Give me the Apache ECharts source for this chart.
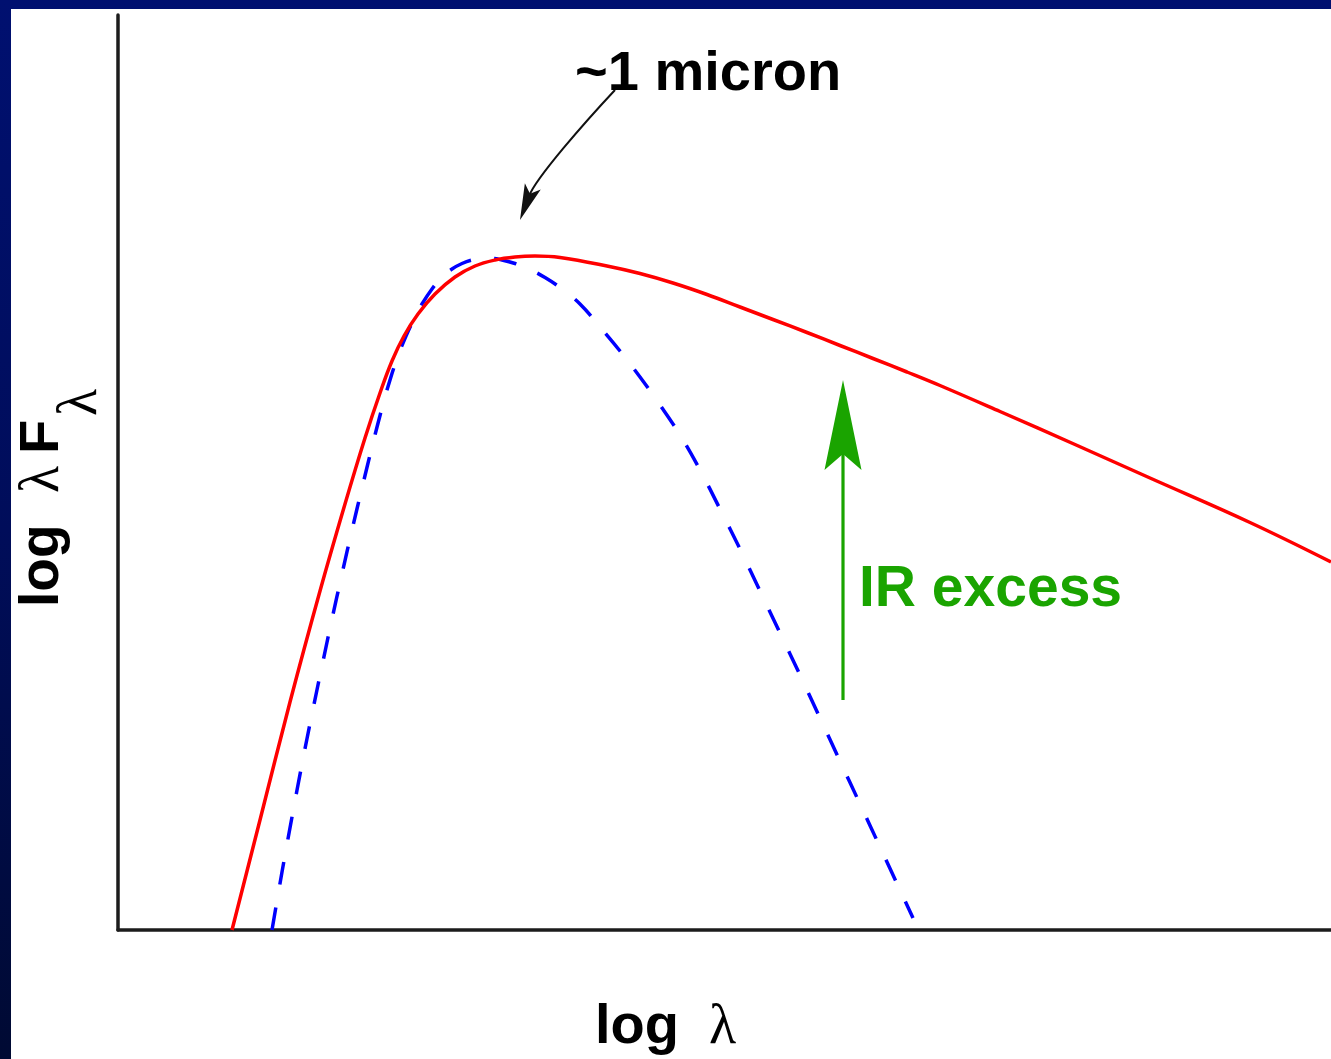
<!DOCTYPE html>
<html>
<head>
<meta charset="utf-8">
<title>SED with IR excess</title>
<script src="https://cdn.jsdelivr.net/npm/echarts@6/dist/echarts.min.js"></script>
<style>
  html, body { margin: 0; padding: 0; width: 1331px; height: 1059px; overflow: hidden; }
  body { background: linear-gradient(to bottom, #001070 0%, #000d5a 50%, #000a33 100%); }
  #chart { position: absolute; left: 11px; top: 9px; width: 1320px; height: 1050px; background: #ffffff; }
</style>
</head>
<body>
<div id="chart"></div>
<script>
// Schematic spectral energy distribution: log λF_λ against log λ (arbitrary log units).

// Observed SED (solid red): star plus infrared excess
const sedLogLambda = [1.14, 1.42, 1.72, 2.02, 2.27, 2.47, 2.62, 2.74, 2.86, 3.00, 3.17, 3.37, 3.57, 3.77, 3.97, 4.17, 4.42, 4.89, 5.22, 5.55, 5.89, 6.22, 6.55, 6.89, 7.22, 7.55, 7.89, 8.22, 8.82, 9.57, 10.32, 11.32, 12.13];
const sedLogFlux   = [0.00, 1.10, 2.28, 3.39, 4.26, 4.92, 5.37, 5.69, 5.94, 6.16, 6.36, 6.53, 6.64, 6.70, 6.73, 6.74, 6.725, 6.64, 6.565, 6.47, 6.355, 6.23, 6.105, 5.975, 5.845, 5.715, 5.58, 5.445, 5.185, 4.855, 4.52, 4.075, 3.68];

// Stellar photosphere alone (dashed blue)
const photLogLambda = [1.54, 1.64, 1.74, 1.84, 1.94, 2.04, 2.14, 2.24, 2.34, 2.44, 2.54, 2.64, 2.72, 2.80, 2.88, 2.96, 3.04, 3.14, 3.24, 3.34, 3.44, 3.54, 3.64, 3.74, 3.84, 3.97, 4.12, 4.27, 4.42, 4.62, 4.82, 5.02, 5.22, 5.42, 5.62, 5.82, 6.02, 6.22, 6.42, 6.62, 6.82, 7.02, 7.22, 7.42, 7.62, 7.82, 7.95];
const photLogFlux   = [0.00, 0.58, 1.13, 1.66, 2.16, 2.64, 3.11, 3.56, 4.00, 4.42, 4.83, 5.22, 5.50, 5.74, 5.94, 6.11, 6.26, 6.41, 6.53, 6.61, 6.665, 6.70, 6.715, 6.715, 6.70, 6.665, 6.605, 6.525, 6.425, 6.26, 6.03, 5.79, 5.53, 5.25, 4.95, 4.60, 4.21, 3.81, 3.39, 2.97, 2.55, 2.12, 1.69, 1.26, 0.83, 0.40, 0.12];

// Annotations (data units)
const irArrowX = 7.25;            // IR excess arrow: x position
const irArrowSpan = [2.30, 5.50]; // from tail to tip
const irLabelPos = [7.41, 3.23];
const micronLabelPos = [4.57, 8.38];
// curved pointer: start, control 1, control 2, tip
const micronArrow = [[4.97, 8.40], [4.67, 8.08], [4.18, 7.52], [4.02, 7.10]];

const X_MAX = 12.13, Y_MAX = 9.15;

const zip = (xs, ys) => xs.map((x, i) => [x, ys[i]]);

const SANS = '"Liberation Sans", Arial, Helvetica, sans-serif';
const SERIF = '"Liberation Serif", "Times New Roman", serif';
const GREEN = '#1aa400';
const MID = 17; // baseline offset for middle-aligned 56px text

function arrowHead(tip, from, len, halfW, notch, color) {
  const dx = tip[0] - from[0], dy = tip[1] - from[1];
  const n = Math.hypot(dx, dy);
  const ux = dx / n, uy = dy / n, px = -uy, py = ux;
  return {
    type: 'polygon',
    shape: { points: [
      [tip[0], tip[1]],
      [tip[0] - len * ux + halfW * px, tip[1] - len * uy + halfW * py],
      [tip[0] - notch * ux, tip[1] - notch * uy],
      [tip[0] - len * ux - halfW * px, tip[1] - len * uy - halfW * py]
    ] },
    style: { fill: color }
  };
}

function renderAnnotations(params, api) {
  const children = [];
  // IR excess arrow
  const tail = api.coord([irArrowX, irArrowSpan[0]]);
  const tip = api.coord([irArrowX, irArrowSpan[1]]);
  children.push({
    type: 'line',
    shape: { x1: tail[0], y1: tail[1], x2: tip[0], y2: tip[1] + 70 },
    style: { stroke: GREEN, lineWidth: 3.2 }
  });
  children.push(arrowHead(tip, tail, 90, 18.5, 74, GREEN));
  const irp = api.coord(irLabelPos);
  children.push({
    type: 'text',
    style: { text: 'IR excess', x: irp[0], y: irp[1] - MID, font: 'bold 57px ' + SANS, fill: GREEN, align: 'left', verticalAlign: 'middle' }
  });

  // ~1 micron pointer
  const p = micronArrow.map(d => api.coord(d));
  const m = p[3], c2 = p[2];
  const dx = m[0] - c2[0], dy = m[1] - c2[1], n = Math.hypot(dx, dy);
  const end = [m[0] - 26 * dx / n, m[1] - 26 * dy / n];
  children.push({
    type: 'bezierCurve',
    shape: { x1: p[0][0], y1: p[0][1], cpx1: p[1][0], cpy1: p[1][1], cpx2: p[2][0], cpy2: p[2][1], x2: end[0], y2: end[1] },
    style: { stroke: '#111', lineWidth: 2, fill: null }
  });
  children.push(arrowHead(m, c2, 36, 8.5, 28, '#111'));
  const mp = api.coord(micronLabelPos);
  children.push({
    type: 'text',
    style: { text: '~1 micron', x: mp[0], y: mp[1] - MID, font: 'bold 56px ' + SANS, fill: '#000', align: 'left', verticalAlign: 'middle' }
  });
  return { type: 'group', children };
}

const chart = echarts.init(document.getElementById('chart'), null, { renderer: 'canvas' });

const bareAxis = (max) => ({
  type: 'value',
  min: 0,
  max: max,
  axisLine: { show: true, lineStyle: { color: '#1c1c1c', width: 3.5 } },
  axisTick: { show: false },
  axisLabel: { show: false },
  splitLine: { show: false }
});

chart.setOption({
  animation: false,
  backgroundColor: '#ffffff',
  grid: { left: 107, top: 6, right: 0, bottom: 129, containLabel: false },
  xAxis: bareAxis(X_MAX),
  yAxis: bareAxis(Y_MAX),
  graphic: [
    {
      type: 'group',
      x: 49,
      y: 594,
      rotation: Math.PI / 2,
      children: [
        { type: 'text', x: -4, y: -MID, style: { text: 'log', font: 'bold 55px ' + SANS, fill: '#000', align: 'left', verticalAlign: 'middle' } },
        { type: 'text', x: 110, y: -MID, style: { text: 'λ', font: 'normal 56px ' + SERIF, fill: '#000', align: 'left', verticalAlign: 'middle' } },
        { type: 'text', x: 149, y: -MID, style: { text: 'F', font: 'bold 56px ' + SANS, fill: '#000', align: 'left', verticalAlign: 'middle' } },
        { type: 'text', x: 187, y: 38 - MID, style: { text: 'λ', font: 'normal 56px ' + SERIF, fill: '#000', align: 'left', verticalAlign: 'middle' } }
      ]
    },
    { type: 'text', x: 584, y: 1036 - MID, style: { text: 'log', font: 'bold 56px ' + SANS, fill: '#000', align: 'left', verticalAlign: 'middle' } },
    { type: 'text', x: 698, y: 1036 - MID, style: { text: 'λ', font: 'normal 56px ' + SERIF, fill: '#000', align: 'left', verticalAlign: 'middle' } }
  ],
  series: [
    {
      name: 'Photosphere',
      type: 'line',
      data: zip(photLogLambda, photLogFlux),
      smooth: 0.4,
      symbol: 'none',
      lineStyle: { color: '#0000ff', width: 3.5, type: [23, 23], cap: 'butt' },
      z: 2
    },
    {
      name: 'Observed SED',
      type: 'line',
      data: zip(sedLogLambda, sedLogFlux),
      smooth: 0.4,
      symbol: 'none',
      lineStyle: { color: '#ff0000', width: 3.5 },
      z: 3
    },
    {
      name: 'Annotations',
      type: 'custom',
      coordinateSystem: 'cartesian2d',
      clip: false,
      silent: true,
      data: [[irArrowX, irArrowSpan[0]]],
      renderItem: renderAnnotations,
      z: 4
    }
  ]
});
</script>
</body>
</html>
